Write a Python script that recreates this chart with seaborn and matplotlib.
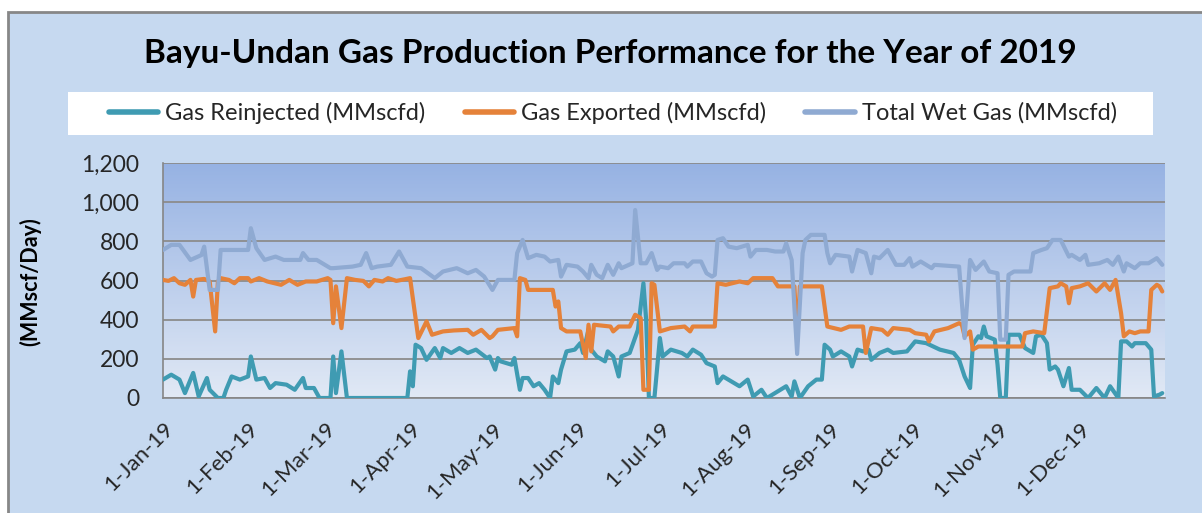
import numpy as np
import pandas as pd
import matplotlib
matplotlib.use('Agg')
import matplotlib.pyplot as plt
import seaborn as sns
from matplotlib.lines import Line2D
from matplotlib.patches import Rectangle
from matplotlib.ticker import FuncFormatter

# day of year (0 = 1-Jan-19) and rate in MMscfd
reinj_day = [0, 3, 6, 8, 11, 13, 16, 17, 20, 22, 23, 25, 28, 31, 32, 34, 37, 39, 41, 45, 48, 51, 52, 55, 57, 61,
             62, 63, 65, 67, 89, 90, 91, 92, 94, 96, 99, 101, 102, 105, 108, 111, 114, 118, 119, 121, 122, 123,
             127, 128, 130, 131, 133, 135, 137, 139, 141, 142, 144, 145, 147, 150, 152, 153, 155, 156, 158, 161,
             162, 164, 166, 167, 170, 173, 175, 176, 177, 179, 181, 182, 185, 189, 191, 193, 196, 198, 201, 202,
             204, 207, 210, 213, 215, 218, 220, 224, 226, 227, 229, 230, 232, 235, 238, 240, 241, 243, 244, 247,
             250, 251, 253, 255, 257, 258, 261, 264, 266, 271, 274, 278, 283, 288, 290, 292, 294, 295, 297, 298,
             299, 300, 303, 304, 305, 307, 308, 312, 314, 317, 318, 320, 322, 323, 325, 326, 328, 330, 331, 334,
             337, 340, 343, 345, 348, 349, 351, 353, 354, 358, 360, 361, 363, 364]
reinj_val = [94, 119, 94, 25, 128, 8, 102, 42, 0, 0, 42, 110, 94, 110, 212, 94, 102, 51, 76, 68, 42, 102, 51, 51, 0, 0,
             212, 25, 238, 0, 0, 136, 60, 272, 255, 195, 255, 204, 255, 230, 255, 230, 247, 204, 212, 145, 204, 187,
             170, 204, 42, 102, 102, 60, 76, 42, 0, 110, 76, 145, 238, 247, 280, 230, 348, 247, 212, 187,
             238, 212, 110, 212, 230, 348, 586, 400, 0, 0, 306, 212, 247, 230, 212, 247, 221, 178, 161, 76,
             110, 85, 60, 94, 8, 42, 0, 34, 51, 60, 8, 85, 0, 60, 94, 94, 272, 247, 212, 238,
             212, 161, 247, 238, 247, 195, 230, 247, 230, 238, 289, 280, 247, 230, 195, 110, 51, 272, 315, 306,
             365, 315, 298, 170, 0, 0, 323, 323, 255, 230, 315, 323, 280, 145, 161, 145, 60, 153, 42, 42,
             0, 51, 0, 60, 0, 289, 289, 263, 280, 280, 247, 8, 17, 25]

export_day = [0, 2, 4, 6, 8, 10, 11, 12, 15, 17, 19, 20, 21, 24, 26, 28, 31, 32, 35, 38, 43, 46, 49, 52, 56, 60, 61,
              62, 63, 65, 67, 70, 73, 75, 77, 80, 82, 85, 88, 90, 93, 96, 98, 102, 106, 111, 113, 116, 119, 120,
              122, 128, 129, 130, 132, 133, 142, 143, 144, 145, 147, 152, 154, 155, 156, 157, 163, 164, 166, 170,
              172, 174, 175, 177, 178, 179, 181, 185, 190, 192, 193, 201, 202, 205, 210, 213, 215, 222, 224, 230,
              231, 232, 240, 242, 247, 250, 255, 256, 258, 262, 264, 266, 272, 274, 278, 279, 281, 286, 290, 291,
              292, 294, 295, 297, 313, 314, 317, 321, 323, 326, 327, 329, 330, 331, 334, 337, 340, 343, 345, 347,
              349, 350, 352, 354, 356, 359, 360, 362, 363, 364]
export_val = [603, 598, 612, 586, 578, 603, 518, 603, 608, 595, 340, 595, 612, 603, 586, 612, 612, 595, 612, 595, 578, 603, 578, 595, 595, 612, 603,
              382, 570, 357, 612, 603, 598, 570, 603, 595, 612, 598, 606, 612, 306, 391, 323, 340, 345, 348, 323, 348, 306, 315,
              348, 357, 315, 612, 603, 552, 552, 467, 493, 357, 340, 340, 204, 374, 238, 374, 365, 340, 365, 365,
              425, 408, 42, 42, 586, 578, 340, 357, 365, 340, 365, 365, 586, 578, 595, 586, 612, 612, 570, 570,
              290, 570, 570, 365, 348, 365, 365, 230, 357, 348, 323, 357, 348, 331, 323, 289, 340, 357, 382, 374,
              315, 340, 247, 263, 263, 331, 340, 331, 561, 570, 586, 570, 484, 561, 570, 586, 544, 586, 552, 603,
              433, 315, 340, 331, 340, 340, 552, 578, 570, 544]

wet_day = [0, 3, 6, 10, 14, 15, 17, 20, 21, 31, 32, 34, 37, 41, 44, 50, 51, 53, 56, 59, 61,
           62, 69, 72, 74, 76, 78, 83, 86, 89, 94, 99, 102, 107, 111, 114, 117, 120, 122, 128, 129, 131, 133,
           136, 139, 141, 144, 145, 147, 151, 153, 155, 156, 158, 160, 162, 164, 166, 167, 171, 172, 174, 176,
           178, 180, 181, 184, 186, 190, 191, 193, 196, 198, 200, 201, 202, 204, 206, 209, 213, 214, 216, 220,
           223, 226, 227, 229, 231, 233, 234, 236, 241, 242, 243, 245, 250, 251, 253, 256, 258, 259, 261, 264,
           267, 270, 272, 273, 276, 280, 281, 290, 292, 294, 296, 299, 301, 304, 305, 307, 308, 310, 316, 317,
           320, 322, 324, 327, 330, 331, 334, 336, 337, 341, 344, 346, 348, 350, 351, 354, 356, 359, 362, 364]
wet_val = [756, 782, 782, 705, 730, 773, 552, 552, 756, 756, 867, 765, 705, 722, 705, 705, 740, 705, 705, 680, 663,
           663, 671, 680, 740, 663, 671, 680, 748, 671, 663, 612, 646, 663, 637, 654, 620, 552, 603, 603, 740, 807, 714,
           731, 722, 697, 705, 620, 680, 671, 646, 612, 680, 629, 612, 680, 629, 688, 663, 688, 960, 688, 688,
           740, 654, 671, 663, 688, 688, 671, 697, 697, 637, 620, 629, 807, 816, 773, 765, 782, 722, 756, 756,
           748, 748, 790, 705, 225, 740, 807, 833, 833, 740, 688, 731, 722, 646, 756, 740, 637, 722, 714, 756,
           680, 680, 714, 671, 697, 663, 680, 671, 306, 705, 654, 697, 646, 637, 298, 298, 629, 646, 646, 740,
           756, 765, 807, 807, 722, 731, 705, 731, 680, 688, 705, 680, 722, 646, 688, 663, 688, 688, 714, 680]

names = ['Gas Reinjected (MMscfd)', 'Gas Exported (MMscfd)', 'Total Wet Gas (MMscfd)']
colors = ['#3F9BB2', '#E5823A', '#8FAAD2']

start = pd.Timestamp('2019-01-01')


def to_frame(days, vals, name):
    return pd.DataFrame({'date': start + pd.to_timedelta(days, unit='D'),
                         'rate': vals, 'series': name})


df = pd.concat([to_frame(reinj_day, reinj_val, names[0]),
                to_frame(export_day, export_val, names[1]),
                to_frame(wet_day, wet_val, names[2])], ignore_index=True)

sns.set_style('white')
plt.rcParams['font.family'] = ['Lato', 'DejaVu Sans']

fig = plt.figure(figsize=(12.02, 5.13), dpi=100)
fig.patch.set_facecolor('white')

# chart area background with grey border on top / left
fig.add_artist(Rectangle((8 / 1202, -0.05), 1.1, 1 - 12 / 513 + 0.05, transform=fig.transFigure,
                         facecolor='#C6D9F0', edgecolor='#878787', linewidth=2, zorder=-2))
# white legend strip
fig.add_artist(Rectangle((68 / 1202, 1 - 135 / 513), (1153 - 68) / 1202, 43 / 513, transform=fig.transFigure,
                         facecolor='white', edgecolor='none', zorder=-1))

ax = fig.add_axes([163 / 1202, 1 - 398 / 513, 1002 / 1202, 235 / 513])
ax.patch.set_alpha(0)

# vertical gradient inside plot area
top = np.array(matplotlib.colors.to_rgb('#96B2E3'))
bot = np.array(matplotlib.colors.to_rgb('#E1E9F5'))
t = np.linspace(0, 1, 256)[:, None, None]
grad = top * (1 - t) + bot * t
ax.imshow(grad, extent=[0, 1, 0, 1], transform=ax.transAxes, aspect='auto', zorder=0)

sns.lineplot(data=df, x='date', y='rate', hue='series', hue_order=names, palette=colors,
             estimator=None, sort=False, linewidth=3, legend=False, ax=ax, zorder=3)

ax.set_xlim(start, pd.Timestamp('2020-01-01'))
ax.set_ylim(0, 1200)
ax.set_yticks(range(0, 1201, 200))
ax.yaxis.set_major_formatter(FuncFormatter(lambda v, p: f'{int(v):,}'))

months = pd.date_range('2019-01-01', '2020-01-01', freq='MS')
ax.set_xticks(months)
ax.set_xticklabels([f'1-{d:%b-%y}' for d in months[:-1]] + [''], rotation=45,
                   ha='right', rotation_mode='anchor')

ax.set_xlabel('')
ax.set_ylabel('')
ax.grid(axis='y', color='#8C8C8C', linewidth=1.3)
ax.grid(axis='x', visible=False)
ax.set_axisbelow(True)
for s in ['top', 'right']:
    ax.spines[s].set_visible(False)
for s in ['left', 'bottom']:
    ax.spines[s].set_color('#868686')
    ax.spines[s].set_linewidth(1.2)
ax.tick_params(axis='y', length=8, width=1.2, color='#868686', labelsize=16.5, labelcolor='#262626', pad=9)
ax.tick_params(axis='x', length=6, width=1.2, color='#868686', labelsize=16, labelcolor='#262626', pad=9)

fig.text(610 / 1202, 1 - 53 / 513, 'Bayu-Undan Gas Production Performance for the Year of 2019',
         ha='center', va='center', fontsize=24, fontweight='bold', color='black')
fig.text(30 / 1202, 1 - 282 / 513, '(MMscf/Day)', rotation=90, ha='center', va='center',
         fontsize=15.5, fontweight='bold', color='black')

handles = [Line2D([], [], color=c, linewidth=4) for c in colors]
fig.legend(handles, names, loc='center', bbox_to_anchor=(613 / 1202, 1 - 113 / 513), ncol=3,
           frameon=False, fontsize=17, handlelength=2.1, handletextpad=0.3, columnspacing=1.65)

fig.savefig('out.png', dpi=100)
